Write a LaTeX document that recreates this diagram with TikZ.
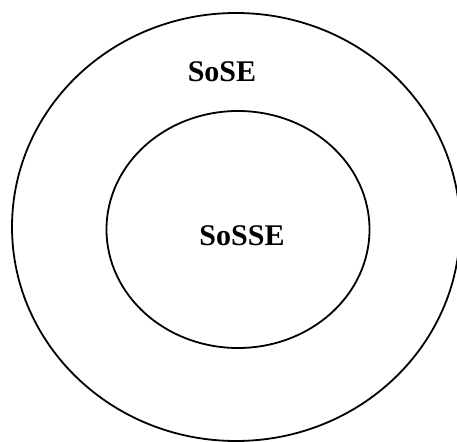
\documentclass[tikz,border=0pt]{standalone}
\usepackage{fontspec}
\setmainfont{Liberation Serif}
\usepackage{tikz}

\begin{document}
\begin{tikzpicture}[x=1pt,y=1pt,line width=1.8pt]
  \tikzstyle{ring}=[draw=black]
  \tikzstyle{label}=[font=\fontsize{30}{30}\selectfont\bfseries,inner sep=0pt]
  \useasboundingbox (0,0) rectangle (457,441);
  \draw[ring] (236,214) ellipse [x radius=224, y radius=214];
  \draw[ring] (238,211.5) ellipse [x radius=131.5, y radius=118.5];
  \node[label] (SoSE) at (222,369)  {SoSE};
  \node[label] (SoSSE) at (242,205) {SoSSE};
\end{tikzpicture}
\end{document}
